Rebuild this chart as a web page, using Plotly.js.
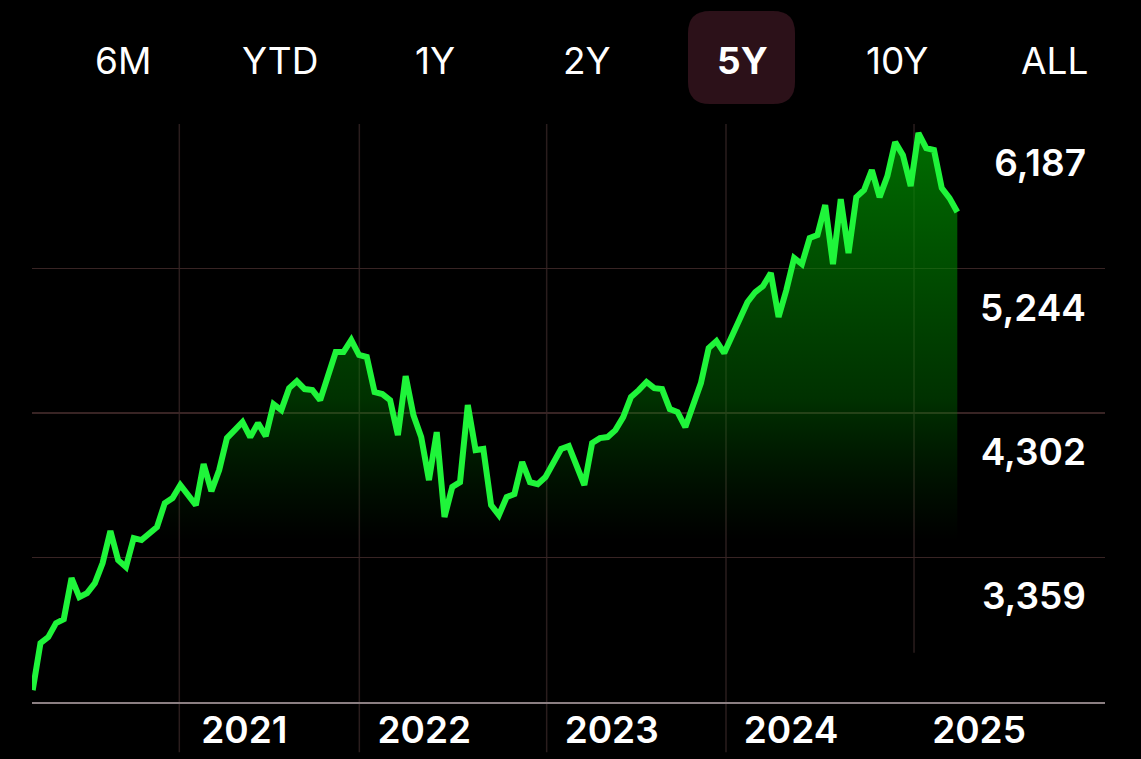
<!DOCTYPE html>
<html>
<head>
<meta charset="utf-8">
<script src="https://cdn.plot.ly/plotly-3.0.1.min.js"></script>
<style>
  html, body { margin: 0; padding: 0; background: #000; }
  #chart { width: 1141px; height: 759px; }
</style>
</head>
<body>
<div id="chart"></div>
<script>
const prices = [
  2494, 2801, 2840, 2931, 2957, 3225, 3101, 3127, 3192, 3323,
  3532, 3342, 3297, 3486, 3473, 3519, 3558, 3714, 3747, 3832,
  3766, 3701, 3969, 3792, 3930, 4138, 4190, 4243, 4145, 4236,
  4151, 4360, 4321, 4464, 4510, 4458, 4451, 4386, 4543, 4699,
  4699, 4778, 4680, 4667, 4438, 4425, 4386, 4158, 4543, 4288,
  4145, 3864, 4177, 3623, 3819, 3851, 4354, 4060, 4067, 3701,
  3636, 3753, 3773, 3982, 3851, 3838, 3884, 3975, 4067, 4086,
  3962, 3832, 4106, 4138, 4145, 4190, 4275, 4406, 4451, 4504,
  4464, 4458, 4327, 4308, 4210, 4341, 4497, 4725, 4771, 4693,
  4797, 4921, 5026, 5091, 5130, 5215, 4928, 5104, 5313, 5273,
  5443, 5463, 5658, 5273, 5697, 5345, 5710, 5756, 5887, 5710,
  5847, 6069, 5984, 5782, 6128, 6030, 6017, 5769, 5704, 5613
];
const pointIndex = prices.map((_, i) => i);

// x-axis: year boundaries (in point-index units) and their labels
const yearTickPos = [18.87, 42.04, 66.15, 89.23, 113.43];
const yearLabels = ['2021', '2022', '2023', '2024', '2025'];

// y-axis labels
const priceTicks = [3359, 4302, 5244, 6187];
const priceTickText = ['3,359', '4,302', '5,244', '6,187'];
const priceRange = [2416.7, 6187];

// range selector labels
const rangeButtons = ['6M', 'YTD', '1Y', '2Y', '5Y', '10Y', 'ALL'];
const activeButton = '5Y';

const FONT = 'Inter, "Open Sans", Roboto, sans-serif';

const trace = {
  type: 'scatter',
  mode: 'lines',
  x: pointIndex,
  y: prices,
  line: { color: '#1ff53a', width: 6, shape: 'linear' },
  fill: 'tozeroy',
  fillgradient: {
    type: 'vertical',
    start: 3470,
    stop: 6130,
    colorscale: [[0, 'rgba(0,90,0,0)'], [0.35, 'rgba(0,130,0,0.38)'], [1, 'rgba(0,140,0,0.78)']]
  },
  hoverinfo: 'skip'
};

// vertical year gridlines (extend under the year labels)
const shapes = yearTickPos.map((p, i) => ({
  type: 'line', xref: 'x', yref: 'paper', layer: 'below',
  x0: p, x1: p,
  y0: i === yearTickPos.length - 1 ? 0.085 : -0.087,
  y1: 1,
  line: { color: '#2a1d1d', width: 1.5 }
}));

// rounded highlight behind the active range button
const bx = 53.5, by = 46.5, r = 22;
shapes.push({
  type: 'path', layer: 'below',
  xref: 'paper', yref: 'paper',
  xsizemode: 'pixel', ysizemode: 'pixel',
  xanchor: (741.5 - 32) / 1073, yanchor: (702 - 57.5) / 578,
  path: `M ${-bx + r} ${-by} L ${bx - r} ${-by} Q ${bx} ${-by} ${bx} ${-by + r} ` +
        `L ${bx} ${by - r} Q ${bx} ${by} ${bx - r} ${by} L ${-bx + r} ${by} ` +
        `Q ${-bx} ${by} ${-bx} ${by - r} L ${-bx} ${-by + r} Q ${-bx} ${-by} ${-bx + r} ${-by} Z`,
  fillcolor: '#2c1119',
  line: { width: 0 }
});

const buttonCenters = [123, 280, 435, 587, 742, 897, 1054];
const annotations = rangeButtons.map((t, i) => ({
  text: t,
  xref: 'paper', yref: 'paper',
  x: (buttonCenters[i] - 32) / 1073,
  y: (702 - 60) / 578,
  xanchor: 'center', yanchor: 'middle',
  showarrow: false,
  font: { family: FONT, size: 37, color: '#ffffff', weight: t === activeButton ? 700 : 400 }
}));

const layout = {
  width: 1141, height: 759,
  margin: { l: 32, r: 36, t: 124, b: 57, pad: 0 },
  paper_bgcolor: '#000000',
  plot_bgcolor: '#000000',
  showlegend: false,
  hovermode: false,
  xaxis: {
    range: [-0.09, 138.01],
    tickmode: 'array',
    tickvals: yearTickPos,
    ticktext: yearLabels,
    ticks: '',
    showgrid: false,
    zeroline: false,
    showline: true,
    linecolor: '#8b7f82',
    linewidth: 2,
    ticklabelshift: 65,
    ticklabelstandoff: -5,
    tickfont: { family: FONT, size: 37, color: '#ffffff', weight: 600 },
    fixedrange: true
  },
  yaxis: {
    range: priceRange,
    side: 'right',
    tickmode: 'array',
    tickvals: priceTicks,
    ticktext: priceTickText,
    ticks: '',
    ticklabelposition: 'inside',
    ticklabeloverflow: 'allow',
    ticklabelshift: 39,
    ticklabelstandoff: 16,
    showgrid: true,
    gridcolor: '#382424',
    gridwidth: 1.5,
    zeroline: false,
    showline: false,
    tickfont: { family: FONT, size: 37, color: '#ffffff', weight: 600 },
    fixedrange: true
  },
  shapes: shapes,
  annotations: annotations
};

Plotly.newPlot('chart', [trace], layout, { displayModeBar: false, staticPlot: true });
</script>
</body>
</html>
